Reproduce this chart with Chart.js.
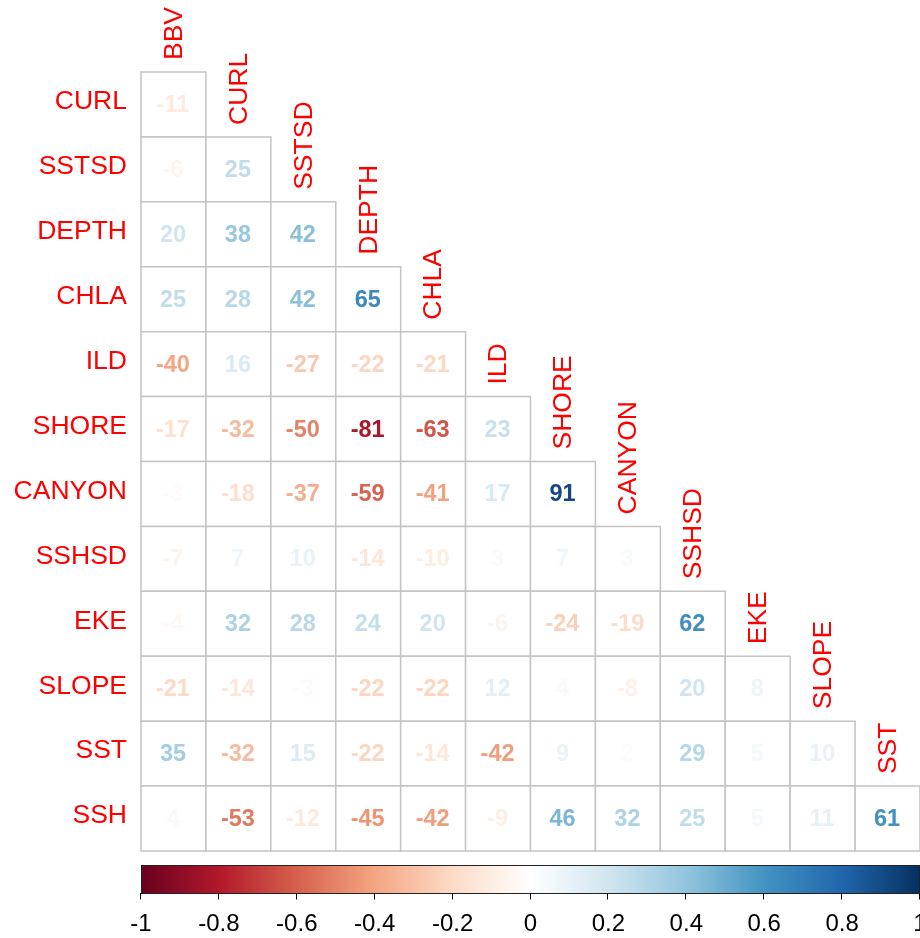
<!DOCTYPE html>
<html>
<head>
<meta charset="utf-8">
<script src="https://cdn.jsdelivr.net/npm/chart.js@4/dist/chart.umd.min.js"></script>
<style>
  html, body { margin: 0; padding: 0; background: #ffffff; }
  #wrap { width: 920px; height: 938px; }
</style>
</head>
<body>
<div id="wrap"><canvas id="corr" width="920" height="938"></canvas></div>
<script>
// Variables shown on the rows (left) and along the diagonal (columns)
const rowVars = ['CURL', 'SSTSD', 'DEPTH', 'CHLA', 'ILD', 'SHORE', 'CANYON', 'SSHSD', 'EKE', 'SLOPE', 'SST', 'SSH'];
const colVars = ['BBV', 'CURL', 'SSTSD', 'DEPTH', 'CHLA', 'ILD', 'SHORE', 'CANYON', 'SSHSD', 'EKE', 'SLOPE', 'SST'];

// Lower-triangle correlations (x100), one array per row, in column order
const rCURL   = [-11];
const rSSTSD  = [-6, 25];
const rDEPTH  = [20, 38, 42];
const rCHLA   = [25, 28, 42, 65];
const rILD    = [-40, 16, -27, -22, -21];
const rSHORE  = [-17, -32, -50, -81, -63, 23];
const rCANYON = [-3, -18, -37, -59, -41, 17, 91];
const rSSHSD  = [-7, 7, 10, -14, -10, 3, 7, 3];
const rEKE    = [-4, 32, 28, 24, 20, -6, -24, -19, 62];
const rSLOPE  = [-21, -14, -3, -22, -22, 12, 4, -8, 20, 8];
const rSST    = [35, -32, 15, -22, -14, -42, 9, 2, 29, 5, 10];
const rSSH    = [4, -53, -12, -45, -42, -9, 46, 32, 25, 5, 11, 61];

// Colour-bar tick labels
const cbTicks = ['-1', '-0.8', '-0.6', '-0.4', '-0.2', '0', '0.2', '0.4', '0.6', '0.8', '1'];

// Diverging red-white-blue palette, stops at -1, -0.8, ..., 1
const paletteStops = ['#67001F', '#B2182B', '#D6604D', '#F4A582', '#FDDBC7', '#FFFFFF',
                      '#D1E5F0', '#92C5DE', '#4393C3', '#2166AC', '#053061'];

const rows = [rCURL, rSSTSD, rDEPTH, rCHLA, rILD, rSHORE, rCANYON, rSSHSD, rEKE, rSLOPE, rSST, rSSH];

function hexToRgb(h) {
  return [parseInt(h.slice(1, 3), 16), parseInt(h.slice(3, 5), 16), parseInt(h.slice(5, 7), 16)];
}
function colorFor(r) {
  const t = Math.max(0, Math.min(1, (r + 1) / 2)) * (paletteStops.length - 1);
  const i = Math.min(paletteStops.length - 2, Math.floor(t));
  const f = t - i;
  const a = hexToRgb(paletteStops[i]), b = hexToRgb(paletteStops[i + 1]);
  const c = a.map((v, k) => Math.round(v + (b[k] - v) * f));
  return 'rgb(' + c.join(',') + ')';
}

// One point per lower-triangle cell
const cells = [];
rows.forEach((vals, i) => {
  vals.forEach((v, j) => cells.push({ x: j + 0.5, y: rowVars[i], v: v, row: i, col: j }));
});

const FONT_FAMILY = '"Liberation Sans", Arial, sans-serif';
const LABEL_FONT = '26.5px ' + FONT_FAMILY;
const LABEL_RED = '#FF0000';

function cellSide(chart) {
  const xs = chart.scales.x;
  return xs.getPixelForValue(1) - xs.getPixelForValue(0);
}

const corrDecor = {
  id: 'corrDecor',
  afterDatasetsDraw(chart) {
    const ctx = chart.ctx;
    const meta = chart.getDatasetMeta(0);
    const half = cellSide(chart) / 2;
    ctx.save();
    // coefficient text inside each cell
    ctx.font = 'bold 23.5px ' + FONT_FAMILY;
    ctx.textAlign = 'center';
    ctx.textBaseline = 'middle';
    meta.data.forEach((el, k) => {
      const d = cells[k];
      ctx.fillStyle = colorFor(d.v / 100);
      ctx.fillText(String(d.v), el.x - 0.5, el.y + 1);
    });
    // variable names above the diagonal cells, rotated
    ctx.font = LABEL_FONT;
    ctx.fillStyle = LABEL_RED;
    ctx.textAlign = 'left';
    ctx.textBaseline = 'middle';
    meta.data.forEach((el, k) => {
      const d = cells[k];
      if (d.col !== d.row) return;
      ctx.save();
      ctx.translate(el.x + 1, el.y - half - 12);
      ctx.rotate(-Math.PI / 2);
      ctx.fillText(colVars[d.col], 0, 0);
      ctx.restore();
    });
    // colour bar with its ticks and labels
    const cb = chart.scales.cb;
    const x0 = cb.getPixelForValue(-1), x1 = cb.getPixelForValue(1);
    const yTop = cb.top + 14, yBot = cb.top + 42;
    const grad = ctx.createLinearGradient(x0, 0, x1, 0);
    paletteStops.forEach((c, i) => grad.addColorStop(i / (paletteStops.length - 1), c));
    ctx.fillStyle = grad;
    ctx.fillRect(x0, yTop, x1 - x0, yBot - yTop);
    ctx.strokeStyle = '#222222';
    ctx.lineWidth = 1;
    ctx.strokeRect(x0 + 0.5, yTop + 0.5, x1 - x0 - 1, yBot - yTop);
    ctx.beginPath();
    cbTicks.forEach(lbl => {
      const px = Math.round(cb.getPixelForValue(parseFloat(lbl))) - 0.5;
      ctx.moveTo(px, yBot);
      ctx.lineTo(px, yBot + 6.5);
    });
    ctx.strokeStyle = '#000000';
    ctx.stroke();
    ctx.fillStyle = '#000000';
    ctx.font = '24px ' + FONT_FAMILY;
    ctx.textAlign = 'center';
    ctx.textBaseline = 'middle';
    cbTicks.forEach(lbl => {
      ctx.fillText(lbl, cb.getPixelForValue(parseFloat(lbl)), cb.top + 73);
    });
    ctx.restore();
  }
};

new Chart(document.getElementById('corr'), {
  type: 'scatter',
  data: {
    datasets: [{
      data: cells,
      pointStyle: 'rect',
      backgroundColor: '#FFFFFF',
      borderColor: '#C4C4C4',
      borderWidth: 1.5,
      pointRadius: ctx => cellSide(ctx.chart) / Math.SQRT2,
      pointHoverRadius: ctx => cellSide(ctx.chart) / Math.SQRT2,
      clip: false
    }]
  },
  options: {
    responsive: false,
    animation: false,
    events: [],
    layout: { padding: { top: 72, left: 0, right: 0, bottom: 0 }, autoPadding: false },
    plugins: { legend: { display: false }, tooltip: { enabled: false } },
    scales: {
      x: { type: 'linear', min: 0, max: 12, display: false },
      y: {
        type: 'category',
        labels: rowVars,
        offset: true,
        position: 'left',
        grid: { display: false, drawTicks: false },
        border: { display: false },
        ticks: { color: LABEL_RED, font: { family: FONT_FAMILY, size: 26.5 }, padding: 14, labelOffset: -2.5 },
        afterFit(scale) { scale.width = 141; }
      },
      cb: {
        type: 'linear',
        axis: 'x',
        position: 'bottom',
        min: -1,
        max: 1,
        grid: { display: false, drawTicks: false },
        border: { display: false },
        ticks: { display: false, stepSize: 0.2 },
        afterFit(scale) { scale.height = 87; }
      }
    }
  },
  plugins: [corrDecor]
});
</script>
</body>
</html>
